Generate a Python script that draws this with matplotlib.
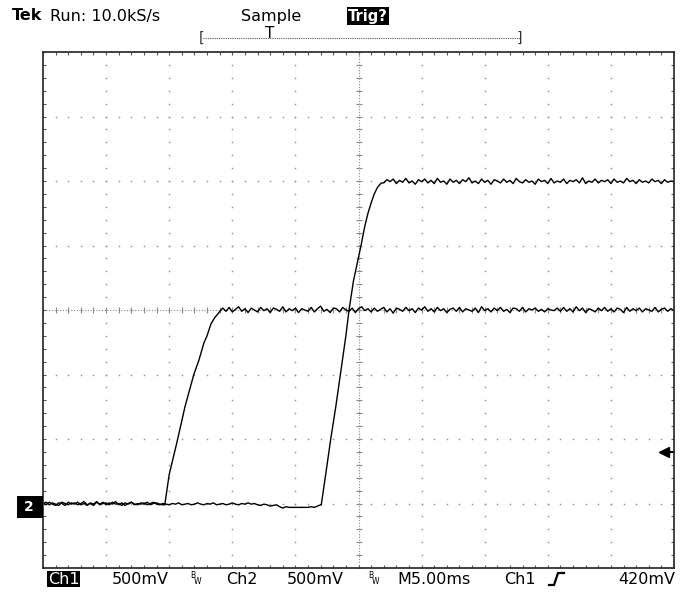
import numpy as np
import matplotlib.pyplot as plt
from matplotlib.lines import Line2D
from matplotlib.patches import Rectangle

# scope traces, x and y in graticule divisions (5 ms/div, 500 mV/div)
a_base = [-2.99, -3.02, -2.98, -3.01, -3.03, -2.99, -3.00, -3.03, -2.98, -3.01,
          -2.99, -3.02, -3.00, -2.97, -3.02, -3.00, -3.03, -2.98, -3.01, -2.98,
          -3.02, -2.99, -3.01, -2.97, -3.02, -2.99, -3.03, -3.00, -2.98, -3.01,
          -3.02, -2.99, -3.01, -2.98, -3.02, -3.00, -2.99, -3.01, -3.02]
a_rise_t = [1.93, 2.00, 2.13, 2.25, 2.39, 2.47, 2.55, 2.60, 2.66, 2.72, 2.78, 2.82]
a_rise_v = [-3.02, -2.55, -2.02, -1.50, -1.00, -0.78, -0.51, -0.40, -0.22, -0.12, -0.05, 0.0]
a_plat = [0.03, -0.02, 0.04, -0.03, 0.01, 0.05, -0.02, 0.02, -0.04, 0.03, 0.00, -0.03,
          0.04, -0.01, 0.02, -0.04, 0.03, 0.01, -0.02, 0.05, -0.03, 0.02, -0.01, 0.03,
          -0.04, 0.02, 0.00, -0.02, 0.04, -0.03, 0.02, 0.06, -0.02, 0.01, -0.04, 0.03,
          0.02, -0.03, 0.04, 0.00, -0.02, 0.03, -0.04, 0.02, 0.05, -0.01, 0.02, -0.03,
          0.03, -0.02, 0.01, 0.04, -0.03, 0.02, -0.05, 0.03, 0.01, -0.02, 0.04, -0.01,
          0.02, -0.04, 0.03, 0.00, 0.05, -0.02, 0.02, -0.03, 0.04, -0.01, 0.02, -0.04,
          0.01, 0.03, -0.02, 0.04, -0.03, 0.02, 0.00, -0.02, 0.03, -0.04, 0.05, -0.01,
          0.02, -0.03, 0.03, -0.01, 0.04, -0.02, 0.01, -0.04, 0.03, 0.02, -0.02, 0.04,
          -0.03, 0.02, 0.00, 0.03, -0.02, 0.01, -0.03, 0.02, 0.00, -0.01, 0.03, -0.02,
          0.04, -0.02, 0.02, -0.03, 0.05, -0.01, 0.03, -0.04, 0.02, 0.00, -0.03, 0.03,
          -0.01, 0.04, -0.02, 0.02, -0.03, 0.03, 0.01, -0.04, 0.04, -0.02, 0.02, -0.01,
          0.03, -0.03, 0.02, 0.00, -0.02, 0.04, -0.03, 0.01, 0.03, -0.02, 0.02, -0.01]

b_base = [-3.00, -2.98, -3.02, -2.99, -3.01, -3.03, -2.98, -3.00, -3.02, -2.99,
          -3.01, -2.98, -3.02, -3.00, -3.03, -2.99, -3.01, -2.97, -3.02, -3.00,
          -2.99, -3.02, -2.98, -3.01, -3.00, -3.03, -2.99, -3.01, -2.98, -3.02,
          -3.00, -3.01, -2.99, -3.02, -3.00, -2.98, -3.01, -3.02, -3.00,
          -3.01, -3.02, -3.00, -3.01, -2.99, -3.02, -3.01, -3.00, -3.02, -3.01, -2.99, -3.01,
          -3.02, -3.00, -3.01, -2.99, -3.02, -3.01, -3.00, -3.02, -3.01, -2.99, -3.01, -3.02,
          -3.00, -3.01, -2.99, -3.01, -3.00, -3.02, -3.03, -3.01, -3.02, -3.04, -3.03, -3.02,
          -3.05, -3.07, -3.05, -3.06, -3.06, -3.06, -3.06, -3.06, -3.06, -3.06, -3.05, -3.06,
          -3.04, -3.02]
b_rise_t = [4.41, 4.48, 4.56, 4.64, 4.72, 4.80, 4.85, 4.92, 5.04, 5.10, 5.15, 5.20, 5.25, 5.30, 5.36]
b_rise_v = [-3.02, -2.55, -2.00, -1.50, -0.95, -0.40, 0.0, 0.45, 1.00, 1.30, 1.50, 1.66, 1.80, 1.90, 1.97]
b_plat = [1.97, 2.02, 1.99, 2.03, 1.96, 2.01, 1.98, 2.04, 1.97, 2.00, 1.95, 2.02,
          1.99, 2.03, 1.97, 2.01, 1.96, 2.04, 1.98, 2.00, 1.95, 2.03, 1.98, 2.01,
          1.96, 2.02, 1.99, 2.05, 1.97, 2.00, 1.96, 2.03, 1.98, 2.01, 1.95, 2.02,
          2.00, 1.97, 2.03, 1.98, 2.01, 1.96, 2.04, 1.99, 1.97, 2.02, 1.98, 2.00,
          1.95, 2.03, 1.99, 2.01, 1.96, 2.04, 1.97, 2.00, 1.98, 2.03, 1.96, 2.01,
          1.99, 2.02, 1.97, 2.05, 1.96, 2.00, 1.98, 2.03, 1.97, 2.01, 1.99, 2.02,
          1.96, 2.03, 1.98, 2.00, 1.97, 2.04, 1.99, 2.01, 1.96, 2.02, 1.98, 2.00,
          1.97, 2.03, 1.99, 2.01, 1.96, 2.02, 1.98, 2.00, 1.99]

trig_level = -2.20

W, H = 683, 592
fig = plt.figure(figsize=(W / 100, H / 100), dpi=100)
ax = fig.add_axes([43 / W, 1 - 568 / H, 631 / W, 516 / H])
ax.set_xlim(0, 10)
ax.set_ylim(-4, 4)

# graticule
dots = '#8a8a8a'
for gx in range(1, 10):
    if gx == 5:
        continue
    ys = np.arange(-4, 4.01, 0.2)
    ax.plot([gx] * len(ys), ys, ls='none', marker='s', ms=1.0, color=dots, mec='none')
for gy in range(-3, 4):
    if gy == 0:
        continue
    xs = np.arange(0, 10.01, 0.2)
    ax.plot(xs, [gy] * len(xs), ls='none', marker='s', ms=1.0, color=dots, mec='none')
ax.axhline(0, ls=(0, (1, 1.5)), color=dots, lw=0.8)
ax.axvline(5, ls=(0, (1, 1.5)), color=dots, lw=0.8)
xs = np.arange(0, 10.01, 0.2)
ax.plot(xs, [0] * len(xs), ls='none', marker='|', ms=4, mew=0.8, color=dots)
ys = np.arange(-4, 4.01, 0.2)
ax.plot([5] * len(ys), ys, ls='none', marker='_', ms=4, mew=0.8, color=dots)

ax.set_xticks(np.arange(0, 10.01, 0.2))
ax.set_yticks(np.arange(-4, 4.01, 0.2))
ax.tick_params(direction='in', length=2.5, width=0.8, color='#555555',
               top=True, right=True, labelbottom=False, labelleft=False)
for s in ax.spines.values():
    s.set_color('#333333')
    s.set_linewidth(1.3)

# traces
ta = np.concatenate([np.linspace(0, 1.90, len(a_base)), a_rise_t,
                     np.linspace(2.85, 10, len(a_plat))])
va = np.concatenate([a_base, a_rise_v, a_plat])
tb = np.concatenate([np.linspace(0, 4.40, len(b_base)), b_rise_t,
                     np.linspace(5.40, 10, len(b_plat))])
vb = np.concatenate([b_base, b_rise_v, b_plat])
ax.plot(ta, va, color='black', lw=1.0)
ax.plot(tb, vb, color='black', lw=1.0)

# trigger level arrow
ax.plot([9.84, 10], [trig_level, trig_level], color='black', lw=1.5, clip_on=False)
ax.plot([9.84], [trig_level], marker='<', ms=7, color='black', clip_on=False)


def fx(p):
    return p / W


def fy(p):
    return 1 - p / H


fs = 11.5
# header
fig.text(fx(12), fy(16), 'Tek', fontsize=fs, fontweight='bold', va='center')
fig.text(fx(50), fy(16), 'Run: 10.0kS/s', fontsize=fs, va='center')
fig.text(fx(241), fy(16), 'Sample', fontsize=fs, va='center')
fig.text(fx(348), fy(16), 'Trig?', fontsize=fs - 1, fontweight='bold', color='white', va='center',
         bbox=dict(facecolor='black', edgecolor='none', pad=1.0))
fig.add_artist(Line2D([fx(203), fx(520)], [fy(38), fy(38)], ls=(0, (1, 1)), lw=0.8, color='#555555'))
fig.text(fx(199), fy(38), '[', fontsize=10, va='center', color='#333333')
fig.text(fx(517), fy(38), ']', fontsize=10, va='center', color='#333333')
fig.text(fx(270), fy(33), 'T', fontsize=11, va='center', ha='center')

# ground marker
fig.add_artist(Rectangle((fx(17), fy(518)), fx(26), 22 / H, facecolor='black', edgecolor='none'))
fig.text(fx(29), fy(507), '2', fontsize=10, fontweight='bold', color='white', va='center', ha='center')

# footer
yb = fy(579)
fig.text(fx(48), yb, 'Ch1', fontsize=fs, color='white', va='center',
         bbox=dict(facecolor='black', edgecolor='none', pad=0.5))
fig.text(fx(112), yb, '500mV', fontsize=fs, va='center')
fig.text(fx(190), yb + 0.006, 'B', fontsize=5.5, va='center')
fig.text(fx(194), yb - 0.004, 'W', fontsize=5.5, va='center')
fig.text(fx(226), yb, 'Ch2', fontsize=fs, va='center')
fig.text(fx(287), yb, '500mV', fontsize=fs, va='center')
fig.text(fx(368), yb + 0.006, 'B', fontsize=5.5, va='center')
fig.text(fx(372), yb - 0.004, 'W', fontsize=5.5, va='center')
fig.text(fx(397), yb, 'M5.00ms', fontsize=fs, va='center')
fig.text(fx(504), yb, 'Ch1', fontsize=fs, va='center')
fig.add_artist(Line2D([fx(549), fx(554), fx(558), fx(564)],
                      [fy(585), fy(585), fy(573), fy(573)], lw=1.6, color='black'))
fig.text(fx(618), yb, '420mV', fontsize=fs, va='center')

fig.savefig('out.png', dpi=100)
